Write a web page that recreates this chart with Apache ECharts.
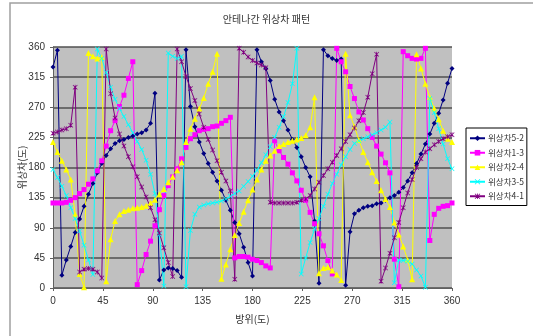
<!DOCTYPE html>
<html>
<head>
<meta charset="utf-8">
<script src="https://cdn.jsdelivr.net/npm/echarts@6/dist/echarts.min.js"></script>
<style>
html, body { margin: 0; padding: 0; background: #fff; }
#chart { width: 533px; height: 336px; }
</style>
</head>
<body>
<div id="chart"></div>
<script>
// azimuth (deg), one sample every 4 degrees
const azimuth = [
  0, 4, 8, 12, 16, 20, 24, 28, 32, 36,
  40, 44, 48, 52, 56, 60, 64, 68, 72, 76,
  80, 84, 88, 92, 96, 100, 104, 108, 112, 116,
  120, 124, 128, 132, 136, 140, 144, 148, 152, 156,
  160, 164, 168, 172, 176, 180, 184, 188, 192, 196,
  200, 204, 208, 212, 216, 220, 224, 228, 232, 236,
  240, 244, 248, 252, 256, 260, 264, 268, 272, 276,
  280, 284, 288, 292, 296, 300, 304, 308, 312, 316,
  320, 324, 328, 332, 336, 340, 344, 348, 352, 356,
  360
];

const phase52 = [
  330, 355, 19, 42, 62, 83, 103, 122, 140, 156,
  172, 186, 198, 208, 216, 220, 222, 225, 227, 230,
  232, 236, 246, 291, 12, 27, 30, 29, 26, 16,
  356, 271, 241, 218, 201, 186, 173, 160, 146, 131,
  116, 98, 81, 61, 38, 18, 356, 338, 328, 310,
  282, 263, 250, 236, 222, 210, 196, 180, 166, 100,
  7, 356, 347, 343, 340, 342, 4, 84, 111, 116,
  120, 122, 123, 126, 127, 131, 135, 138, 143, 150,
  160, 172, 186, 200, 215, 230, 246, 261, 281, 306,
  328
];

const phase13 = [
  127, 127, 127, 128, 131, 135, 141, 147, 155, 163,
  175, 190, 212, 235, 250, 271, 288, 313, 338, 5,
  26, 50, 70, 93, 117, 138, 153, 166, 178, 193,
  210, 223, 229, 235, 237, 238, 241, 242, 246, 250,
  255, 45, 47, 47, 46, 43, 41, 38, 33, 30,
  220, 205, 195, 185, 172, 160, 146, 131, 113, 96,
  81, 63, 41, 21, 358, 338, 323, 301, 283, 263,
  251, 238, 225, 212, 200, 187, 172, 43, 2, 353,
  347, 343, 342, 343, 358, 71, 110, 119, 122, 123,
  127
];

const phase24 = [
  218, 203, 190, 177, 162, 110, 21, 1, 351, 346,
  343, 345, 10, 73, 100, 110, 115, 117, 119, 120,
  121, 123, 127, 132, 140, 148, 158, 166, 176, 188,
  218, 238, 253, 268, 284, 305, 323, 350, 14, 35,
  58, 79, 97, 114, 131, 147, 162, 177, 190, 198,
  205, 212, 215, 218, 220, 222, 224, 228, 240, 285,
  22, 30, 31, 26, 20, 12, 350, 258, 241, 221,
  203, 188, 173, 160, 146, 133, 121, 98, 80, 62,
  42, 13, 349, 328, 305, 285, 268, 252, 235, 223,
  218
];

const phase35 = [
  177, 165, 152, 138, 120, 104, 85, 64, 42, 20,
  357, 343, 322, 300, 282, 268, 256, 244, 232, 219,
  207, 191, 170, 141, 80, 3, 351, 346, 343, 346,
  2, 86, 110, 121, 124, 126, 127, 128, 130, 133,
  137, 141, 145, 152, 159, 167, 176, 187, 199, 211,
  225, 240, 256, 277, 305, 358, 21, 45, 68, 88,
  104, 122, 140, 156, 170, 184, 196, 207, 216, 220,
  223, 226, 229, 232, 236, 240, 248, 8, 42, 41,
  40, 36, 27, 18, 1, 283, 262, 238, 215, 193,
  178
];

const phase41 = [
  231, 233, 236, 238, 243, 300, 24, 28, 29, 28,
  24, 15, 357, 290, 254, 230, 212, 196, 181, 166,
  151, 136, 120, 102, 82, 60, 38, 17, 357, 338,
  316, 298, 280, 260, 240, 222, 206, 190, 173, 160,
  145, 13, 358, 352, 345, 340, 336, 333, 329, 128,
  127, 127, 127, 127, 127, 128, 131, 133, 138, 148,
  158, 168, 178, 188, 198, 208, 219, 229, 239, 250,
  262, 285, 320, 349, 10, 30, 52, 75, 98, 120,
  142, 162, 180, 193, 203, 208, 214, 219, 223, 226,
  229
];

const seriesNames = ['위상차5-2', '위상차1-3', '위상차2-4', '위상차3-5', '위상차4-1'];
const seriesValues = [phase52, phase13, phase24, phase35, phase41];
const seriesColors = ['#000080', '#FF00FF', '#FFFF00', '#00FFFF', '#800080'];

const xMark = 'path://M0,1 L1,0 L5,4 L9,0 L10,1 L6,5 L10,9 L9,10 L5,6 L1,10 L0,9 L4,5 Z';
const starMark = 'path://M0,1 L1,0 L5,4 L9,0 L10,1 L6,5 L10,9 L9,10 L5,6 L1,10 L0,9 L4,5 Z M4.3,0 L5.7,0 L5.7,10 L4.3,10 Z';
const seriesSymbols = ['diamond', 'rect', 'triangle', xMark, starMark];
const symbolSizes = [5, 5, 6, 5, 5];

const tickFont = { fontFamily: 'Liberation Sans', fontSize: 10, color: '#333' };

const chart = echarts.init(document.getElementById('chart'));

const option = {
  backgroundColor: '#fff',
  animation: false,
  title: {
    text: '안테나간 위상차 패턴',
    left: 'center',
    top: 9,
    textStyle: { fontFamily: 'Noto Sans CJK KR', fontSize: 10, fontWeight: 'normal', color: '#333' }
  },
  graphic: [{
    type: 'rect',
    shape: { x: 10, y: 3, width: 600, height: 400 },
    style: { fill: 'none', stroke: '#a0a0a0', lineWidth: 1.5 },
    silent: true
  }],
  legend: {
    orient: 'vertical',
    left: 466,
    top: 128,
    padding: [6, 3, 5, 3],
    itemWidth: 15,
    itemHeight: 7,
    itemGap: 6,
    borderColor: '#000',
    borderWidth: 1,
    backgroundColor: '#fff',
    textStyle: { fontFamily: 'Noto Sans CJK KR', fontSize: 8.5, color: '#333', padding: [0, 0, 0, -2] },
    data: seriesNames
  },
  grid: {
    left: 53,
    top: 47,
    right: 81,
    bottom: 48,
    show: true,
    backgroundColor: '#c0c0c0',
    borderWidth: 0
  },
  xAxis: {
    type: 'value',
    min: 0,
    max: 360,
    interval: 45,
    name: '방위(도)',
    nameLocation: 'middle',
    nameGap: 26,
    nameMoveOverlap: false,
    nameTextStyle: { fontFamily: 'Noto Sans CJK KR', fontSize: 10, color: '#333' },
    axisLine: { lineStyle: { color: '#606060', width: 1 } },
    axisTick: { show: true, length: 3, lineStyle: { color: '#606060' } },
    axisLabel: Object.assign({ margin: 8 }, tickFont),
    splitLine: { show: false }
  },
  yAxis: {
    type: 'value',
    min: 0,
    max: 360,
    interval: 45,
    name: '위상차(도)',
    nameLocation: 'middle',
    nameGap: 26,
    nameMoveOverlap: false,
    nameTextStyle: { fontFamily: 'Noto Sans CJK KR', fontSize: 10, color: '#333' },
    axisLine: { show: true, lineStyle: { color: '#606060', width: 1 } },
    axisTick: { show: true, length: 3, lineStyle: { color: '#606060' } },
    axisLabel: Object.assign({ margin: 8 }, tickFont),
    splitLine: { show: true, lineStyle: { color: '#505050', width: 1.5 } }
  },
  series: seriesNames.map(function (name, k) {
    return {
      name: name,
      type: 'line',
      data: azimuth.map(function (a, i) { return [a, seriesValues[k][i]]; }),
      symbol: seriesSymbols[k],
      symbolSize: symbolSizes[k],
      showAllSymbol: true,
      color: seriesColors[k],
      lineStyle: { width: 1, color: seriesColors[k] },
      itemStyle: { color: seriesColors[k], borderWidth: 0 }
    };
  })
};

chart.setOption(option);
</script>
</body>
</html>
